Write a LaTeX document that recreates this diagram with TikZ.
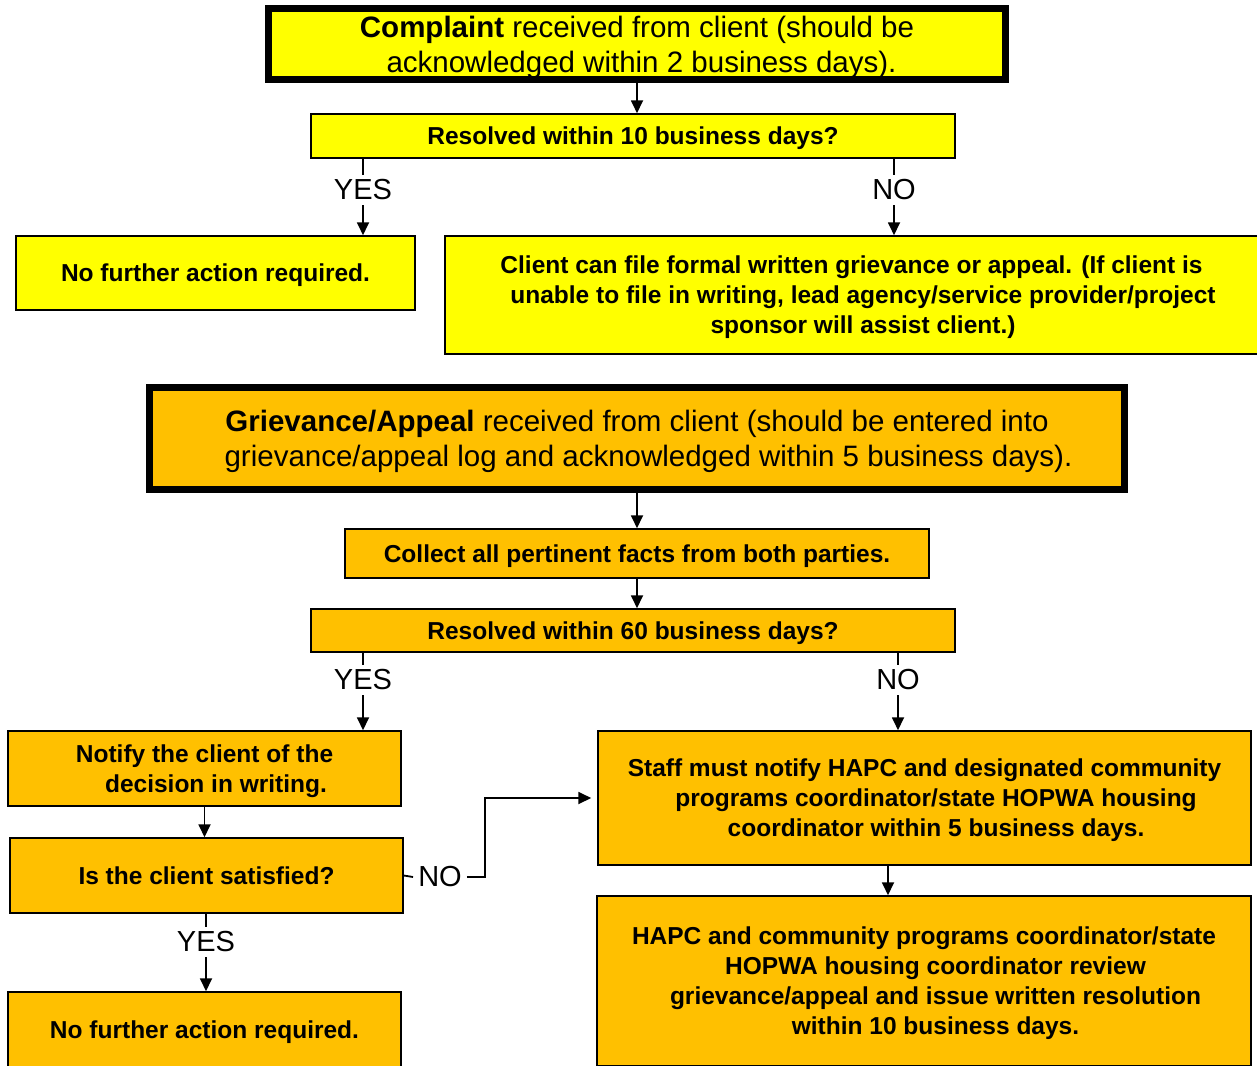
\documentclass[tikz,border=0pt]{standalone}
\usepackage{fontspec}
\setmainfont{Liberation Sans}
\usetikzlibrary{positioning,calc,arrows.meta}
\definecolor{cyellow}{HTML}{FFFF00}
\definecolor{corange}{HTML}{FFC000}
\newcommand{\brk}{\\\hspace*{23pt}}

\begin{document}
\begin{tikzpicture}[
			x=1pt, y=-1pt,
			every node/.style={font=\fontsize{24.5}{30}\selectfont\bfseries},
			box/.style={rectangle, draw=black, line width=1.5pt, inner sep=0pt, align=center, text depth=-3pt},
			headbox/.style={rectangle, draw=black, line width=7pt, inner sep=0pt, align=center, text depth=-3pt, font=\fontsize{29.5}{35}\selectfont},
			answer/.style={font=\fontsize{29}{35}\selectfont, inner sep=5pt},
			arr/.style={-{Triangle[length=13pt,width=12pt]}, line width=1.8pt},
			plain/.style={line width=1.8pt}
			]
			
			\useasboundingbox (0,0) rectangle (1257,1065);
			\clip (0,0) rectangle (1257,1065);
			
			\node (cmp) at (637,44) [headbox, fill=cyellow, minimum width=737pt, minimum height=71pt] {\textbf{Complaint} received from client (should be\\\hspace*{9pt}acknowledged within 2 business days).};
			
			\node (r10) at (633,136) [box, fill=cyellow, minimum width=644pt, minimum height=44pt] {Resolved within 10 business days?};
			
			\node (yes1) at (363,190) [answer] {YES};
			\node (no1) at (894,190) [answer] {NO};
			
			\node (done1) at (215.5,273) [box, fill=cyellow, minimum width=399pt, minimum height=74pt] {No further action required.};
			\node (file) at (851.5,295) [box, fill=cyellow, minimum width=813pt, minimum height=118pt] {Client can file formal written grievance or appeal. (If client is\brk unable to file in writing, lead agency/service provider/project\brk sponsor will assist client.)};
			
			\node (grv) at (637,438.5) [headbox, fill=corange, minimum width=975pt, minimum height=102pt] {\textbf{Grievance/Appeal} received from client (should be entered into\brk grievance/appeal log and acknowledged within 5 business days).};
			
			\node (col) at (637,553.5) [box, fill=corange, minimum width=584pt, minimum height=49pt] {Collect all pertinent facts from both parties.};
			\node (r60) at (633,630.5) [box, fill=corange, minimum width=644pt, minimum height=43pt] {Resolved within 60 business days?};
			
			\node (yes2) at (363,680) [answer] {YES};
			\node (no2) at (898,680) [answer] {NO};
			
			\node (ntf) at (204.5,768.5) [box, fill=corange, minimum width=393pt, minimum height=75pt] {Notify the client of the\brk decision in writing.};
			\node (sat) at (206.5,875.5) [box, fill=corange, minimum width=393pt, minimum height=75pt] {Is the client satisfied?};
			\node (no3) at (440,877) [answer] {NO};
			\node (yes3) at (206,942) [answer] {YES};
			\node (done2) at (204.5,1030) [box, fill=corange, minimum width=393pt, minimum height=76pt] {No further action required.};
			
			\node (stf) at (924.5,798) [box, fill=corange, minimum width=653pt, minimum height=134pt] {Staff must notify HAPC and designated community\brk programs coordinator/state HOPWA housing\brk coordinator within 5 business days.};
			\node (hap) at (924,981) [box, fill=corange, minimum width=654pt, minimum height=170pt] {HAPC and community programs coordinator/state\brk HOPWA housing coordinator review\brk grievance/appeal and issue written resolution\brk within 10 business days.};
			
			\draw [arr] (cmp.south) -- (cmp.south |- r10.north);
			\draw [plain] (yes1 |- r10.south) -- (yes1.north);
			\draw [arr] (yes1.south) -- (yes1 |- done1.north);
			\draw [plain] (no1 |- r10.south) -- (no1.north);
			\draw [arr] (no1.south) -- (no1 |- file.north);
			
			\draw [arr] (grv.south) -- (grv.south |- col.north);
			\draw [arr] (col.south) -- (col.south |- r60.north);
			\draw [plain] (yes2 |- r60.south) -- (yes2.north);
			\draw [arr] (yes2.south) -- (yes2 |- ntf.north);
			\draw [plain] (no2 |- r60.south) -- (no2.north);
			\draw [arr] (no2.south) -- (no2 |- stf.north);
			
			\draw [arr] (ntf.south) -- (ntf.south |- sat.north);
			\draw [plain] (yes3 |- sat.south) -- (yes3.north);
			\draw [arr] (yes3.south) -- (yes3 |- done2.north);
			\draw [plain] (sat.east) -- (no3.west);
			\draw [arr] (no3.east) -- ++(18,0) |- ([xshift=-6pt]stf.west);
			
			\draw [arr] ([xshift=-36.5pt]stf.south) -- ([xshift=-36.5pt]stf.south |- hap.north);
			\end{tikzpicture}
\end{document}
